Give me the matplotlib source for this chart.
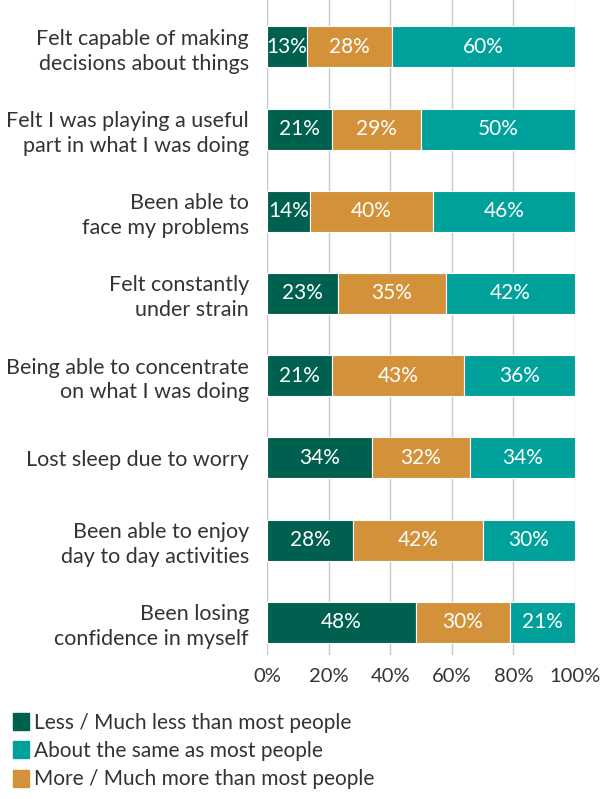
import numpy as np
import matplotlib
matplotlib.use("Agg")
import matplotlib.pyplot as plt
from matplotlib.patches import Patch

plt.rcParams['font.family'] = ['Lato', 'DejaVu Sans']

# data
categories = ["Felt capable of making\ndecisions about things",
              "Felt I was playing a useful\npart in what I was doing",
              "Been able to\nface my problems",
              "Felt constantly\nunder strain",
              "Being able to concentrate\non what I was doing",
              "Lost sleep due to worry",
              "Been able to enjoy\nday to day activities",
              "Been losing\nconfidence in myself"]
less = [13, 21, 14, 23, 21, 34, 28, 48]
more = [28, 29, 40, 35, 43, 32, 42, 30]
same = [60, 50, 46, 42, 36, 34, 30, 21]
series_names = ["Less / Much less than most people",
                "About the same as most people",
                "More / Much more than most people"]
xticks = [0, 20, 40, 60, 80, 100]

c_less, c_more, c_same = '#00604f', '#d39139', '#00a19a'

fig = plt.figure(figsize=(6.01, 7.99), dpi=100)
ax = fig.add_axes([0.444, 0.18, 0.513, 0.82])

vals = np.array([less, more, same], dtype=float)
tot = vals.sum(axis=0)
shares = vals / tot * 100
y = np.arange(len(categories))
left = np.zeros(len(categories))
for k, col in enumerate([c_less, c_more, c_same]):
    ax.barh(y, shares[k], left=left, height=0.5, color=col,
            edgecolor='white', linewidth=0.8, zorder=3)
    for i in range(len(categories)):
        ax.text(left[i] + shares[k][i] / 2, y[i], f"{int(vals[k][i])}%",
                ha='center', va='center', color='white', fontsize=15, zorder=4)
    left += shares[k]

ax.set_xlim(0, 100)
ax.set_ylim(7.4, -0.57)
ax.set_xticks(xticks)
ax.set_xticklabels([f"{t}%" for t in xticks], fontsize=14.5, color='#333333')
ax.set_yticks(y)
ax.set_yticklabels(categories, fontsize=15.5, color='#333333', linespacing=1.3)
ax.tick_params(length=0, pad=13)
ax.tick_params(axis='x', pad=9)
for s in ax.spines.values():
    s.set_visible(False)
ax.xaxis.grid(True, color='#c8c8c8', linewidth=1, zorder=0)
ax.set_axisbelow(True)

handles = [Patch(color=c_less), Patch(color=c_same), Patch(color=c_more)]
fig.legend(handles, series_names, loc='upper left', bbox_to_anchor=(0.022, 0.108),
           frameon=False, fontsize=15, handlelength=0.75, handleheight=0.9,
           handletextpad=0.25, labelspacing=0.4, borderaxespad=0, borderpad=0,
           labelcolor='#333333')

fig.savefig("out.png", dpi=100)
